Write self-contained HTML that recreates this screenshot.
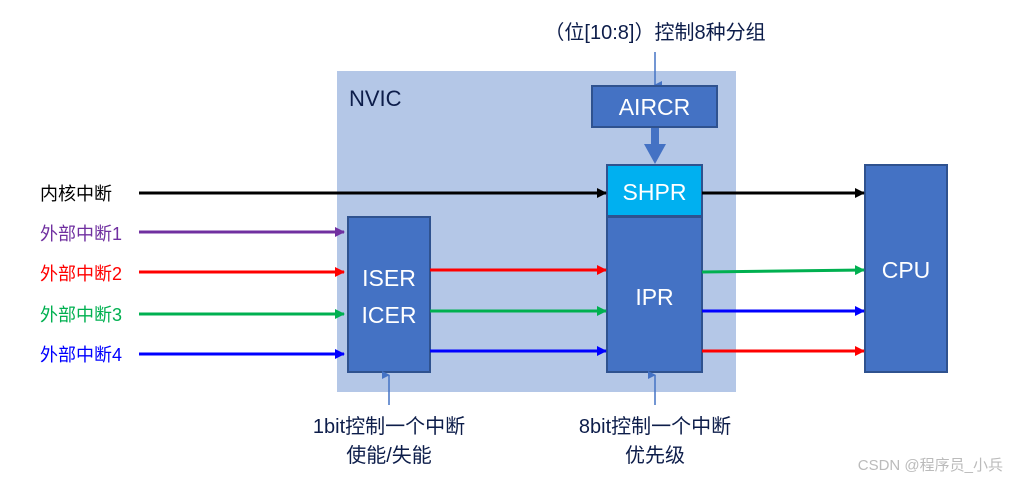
<!DOCTYPE html>
<html><head><meta charset="utf-8"><style>
html,body{margin:0;padding:0;background:#fff;}
svg{display:block;}
text{font-family:"Liberation Sans","Noto Sans CJK SC",sans-serif;}
</style></head><body>
<svg width="1009" height="480" viewBox="0 0 1009 480" xmlns="http://www.w3.org/2000/svg">
<defs>
<marker id="ak" markerWidth="10" markerHeight="10" refX="9" refY="5" orient="auto" markerUnits="userSpaceOnUse"><path d="M0,0 L10,5 L0,10 z" fill="#000"/></marker>
<marker id="ap" markerWidth="10" markerHeight="10" refX="9" refY="5" orient="auto" markerUnits="userSpaceOnUse"><path d="M0,0 L10,5 L0,10 z" fill="#7030a0"/></marker>
<marker id="ar" markerWidth="10" markerHeight="10" refX="9" refY="5" orient="auto" markerUnits="userSpaceOnUse"><path d="M0,0 L10,5 L0,10 z" fill="#ff0000"/></marker>
<marker id="ag" markerWidth="10" markerHeight="10" refX="9" refY="5" orient="auto" markerUnits="userSpaceOnUse"><path d="M0,0 L10,5 L0,10 z" fill="#00b050"/></marker>
<marker id="ab" markerWidth="10" markerHeight="10" refX="9" refY="5" orient="auto" markerUnits="userSpaceOnUse"><path d="M0,0 L10,5 L0,10 z" fill="#0000ff"/></marker>
<marker id="al" markerWidth="8" markerHeight="8" refX="4" refY="7" orient="auto" markerUnits="userSpaceOnUse"><path d="M0,0 L8,0 L4,8 z" fill="#4472c4"/></marker>
</defs>
<rect x="337" y="71" width="399" height="321" fill="#b4c7e7"/>
<text x="349" y="106" font-size="22" fill="#0d1d4a">NVIC</text>
<text x="655" y="39" font-size="20" fill="#0d1d4a" text-anchor="middle">（位[10:8]）控制8种分组</text>
<line x1="655" y1="52" x2="655" y2="85" stroke="#4472c4" stroke-width="1.5" marker-end="url(#al)"/>
<rect x="592" y="86" width="125" height="41" fill="#4472c4" stroke="#2f528f" stroke-width="2"/>
<text x="654.5" y="115" font-size="23" fill="#fff" text-anchor="middle">AIRCR</text>
<rect x="651" y="128" width="8" height="18" fill="#4472c4"/>
<path d="M644,144 L666,144 L655,164 z" fill="#4472c4"/>
<rect x="607" y="165" width="95" height="51" fill="#00b0f0" stroke="#2f528f" stroke-width="2"/>
<text x="654.5" y="200" font-size="23" fill="#fff" text-anchor="middle">SHPR</text>
<rect x="607" y="217" width="95" height="155" fill="#4472c4" stroke="#2f528f" stroke-width="2"/>
<text x="654.5" y="305" font-size="23" fill="#fff" text-anchor="middle">IPR</text>
<rect x="348" y="217" width="82" height="155" fill="#4472c4" stroke="#2f528f" stroke-width="2"/>
<text x="389" y="286" font-size="23" fill="#fff" text-anchor="middle">ISER</text>
<text x="389" y="323" font-size="23" fill="#fff" text-anchor="middle">ICER</text>
<rect x="865" y="165" width="82" height="207" fill="#4472c4" stroke="#2f528f" stroke-width="2"/>
<text x="906" y="278" font-size="23" fill="#fff" text-anchor="middle">CPU</text>
<g font-size="18">
<text x="40" y="200" fill="#000">内核中断</text>
<text x="40" y="240" fill="#7030a0">外部中断1</text>
<text x="40" y="280" fill="#ff0000">外部中断2</text>
<text x="40" y="321" fill="#00b050">外部中断3</text>
<text x="40" y="361" fill="#0000ff">外部中断4</text>
</g>
<g stroke-width="3" fill="none">
<line x1="139" y1="193" x2="606" y2="193" stroke="#000" marker-end="url(#ak)"/>
<line x1="702" y1="193" x2="864" y2="193" stroke="#000" marker-end="url(#ak)"/>
<line x1="139" y1="232" x2="344" y2="232" stroke="#7030a0" marker-end="url(#ap)"/>
<line x1="139" y1="272" x2="344" y2="272" stroke="#ff0000" marker-end="url(#ar)"/>
<line x1="139" y1="314" x2="344" y2="314" stroke="#00b050" marker-end="url(#ag)"/>
<line x1="139" y1="354" x2="344" y2="354" stroke="#0000ff" marker-end="url(#ab)"/>
<line x1="430" y1="270" x2="606" y2="270" stroke="#ff0000" marker-end="url(#ar)"/>
<line x1="430" y1="311" x2="606" y2="311" stroke="#00b050" marker-end="url(#ag)"/>
<line x1="430" y1="351" x2="606" y2="351" stroke="#0000ff" marker-end="url(#ab)"/>
<line x1="702" y1="272" x2="864" y2="270" stroke="#00b050" marker-end="url(#ag)"/>
<line x1="702" y1="311" x2="864" y2="311" stroke="#0000ff" marker-end="url(#ab)"/>
<line x1="702" y1="351" x2="864" y2="351" stroke="#ff0000" marker-end="url(#ar)"/>
</g>
<line x1="389" y1="405" x2="389" y2="375" stroke="#4472c4" stroke-width="1.5" marker-end="url(#al)"/>
<line x1="655" y1="405" x2="655" y2="375" stroke="#4472c4" stroke-width="1.5" marker-end="url(#al)"/>
<g font-size="20" fill="#0d1d4a" text-anchor="middle">
<text x="389" y="433">1bit控制一个中断</text>
<text x="389" y="462">使能/失能</text>
<text x="655" y="433">8bit控制一个中断</text>
<text x="655" y="462">优先级</text>
</g>
<text x="1003" y="470" font-size="15" fill="#bbb" text-anchor="end">CSDN @程序员_小兵</text>
</svg>
</body></html>
